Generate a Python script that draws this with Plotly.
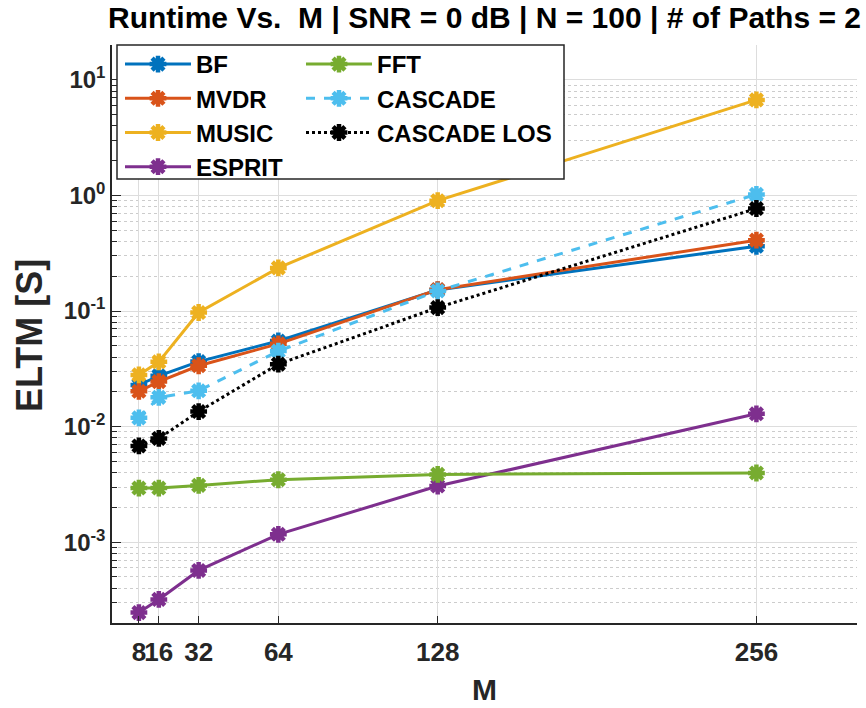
import plotly.graph_objects as go

# Array size M and measured elapsed time (seconds) for each estimator
M = [8, 16, 32, 64, 128, 256]
bf = [0.0229, 0.0275, 0.0365, 0.055, 0.152, 0.363]
mvdr = [0.0202, 0.0245, 0.0336, 0.052, 0.153, 0.41]
music = [0.028, 0.0363, 0.097, 0.236, 0.90, 6.7]
esprit = [2.46e-4, 3.2e-4, 5.7e-4, 1.17e-3, 3.06e-3, 1.29e-2]
fft = [2.94e-3, 2.94e-3, 3.1e-3, 3.47e-3, 3.86e-3, 3.97e-3]
cascade = [0.0119, 0.0179, 0.0204, 0.045, 0.149, 1.02]
cascade_los = [0.0068, 0.0079, 0.0135, 0.0347, 0.107, 0.77]

x_ticks = [8, 16, 32, 64, 128, 256]
x_ticktext = ["8", "16", "32", "64", "128", "256"]
y_ticks = [1e-3, 1e-2, 1e-1, 1e0, 1e1]
y_ticktext = ["10<sup>-3</sup>", "10<sup>-2</sup>", "10<sup>-1</sup>", "10<sup>0</sup>", "10<sup>1</sup>"]

FONT = "Liberation Sans, Arial, sans-serif"
INK = "#262626"

series = [
    ("BF", bf, "#0072BD", "solid", "legend"),
    ("MVDR", mvdr, "#D95319", "solid", "legend"),
    ("MUSIC", music, "#EDB120", "solid", "legend"),
    ("ESPRIT", esprit, "#7E2F8E", "solid", "legend"),
    ("FFT", fft, "#77AC30", "solid", "legend2"),
    ("CASCADE", cascade, "#4DBEEE", "dash", "legend2"),
    ("CASCADE LOS", cascade_los, "#000000", "dot", "legend2"),
]

fig = go.Figure()
for name, vals, color, dash, leg in series:
    fig.add_trace(go.Scatter(
        x=M, y=vals, name=name, mode="lines+markers",
        legend=leg, legendgroup=name,
        line=dict(color=color, width=3, dash=dash),
        marker=dict(symbol="asterisk-open", size=14, color=color,
                    line=dict(color=color, width=4.5)),
    ))

W, H = 866, 708
L, R, T, B = 112, 9, 45, 85
pw, ph = W - L - R, H - T - B


def px_x(p):
    return (p - L) / pw


def px_y(p):
    return 1 - (p - T) / ph


legend_common = dict(
    font=dict(family=FONT, size=24, color="#000000", weight="bold"),
    bgcolor="rgba(0,0,0,0)", borderwidth=0,
    itemwidth=66, tracegroupgap=0, traceorder="grouped",
    xanchor="left", yanchor="top", itemclick=False,
)

fig.update_layout(
    width=W, height=H,
    margin=dict(l=L, r=R, t=T, b=B, autoexpand=False),
    paper_bgcolor="white", plot_bgcolor="white",
    font=dict(family=FONT, color=INK),
    title=dict(
        text="Runtime Vs.  M | SNR = 0 dB | N = 100 | # of Paths = 2",
        font=dict(family=FONT, size=30, color="#000000", weight="bold"),
        xref="paper", x=0.5, xanchor="center",
        yref="container", y=1 - 17 / H, yanchor="middle",
    ),
    legend=dict(x=px_x(120), y=px_y(42), **legend_common),
    legend2=dict(x=px_x(301), y=px_y(42), **legend_common),
    showlegend=True,
)

fig.update_xaxes(
    range=[-2.8, 296.4],
    tickvals=x_ticks, ticktext=x_ticktext, tickangle=0,
    tickfont=dict(family=FONT, size=26, color=INK, weight="bold"),
    ticklabelstandoff=5,
    ticks="inside", ticklen=7, tickcolor=INK, tickwidth=1.2,
    showline=True, linecolor=INK, linewidth=1.5, mirror=False,
    showgrid=True, gridcolor="#dddddd", gridwidth=1,
    zeroline=False,
    title=dict(text="M", font=dict(family=FONT, size=30, color=INK, weight="bold"), standoff=13),
)

fig.update_yaxes(
    type="log", range=[-3.699, 1.301],
    tickvals=y_ticks, ticktext=y_ticktext,
    tickfont=dict(family=FONT, size=24, color=INK, weight="bold"),
    ticks="inside", ticklen=9, tickcolor=INK, tickwidth=1.2,
    showline=True, linecolor=INK, linewidth=1.5, mirror=False,
    showgrid=True, gridcolor="#dddddd", gridwidth=1,
    minor=dict(dtick="D1", ticks="inside", ticklen=5, tickcolor=INK,
               showgrid=True, gridcolor="#cccccc", griddash="dot", gridwidth=1),
    zeroline=False,
)

# Y-axis label
fig.add_annotation(
    text="ELTM [S]", textangle=-90, showarrow=False,
    xref="paper", yref="paper", x=px_x(29), y=px_y(336),
    xanchor="center", yanchor="middle",
    font=dict(family=FONT, size=36, color=INK, weight="bold"),
)

# White legend frame that spans both legend columns
fig.add_shape(
    type="rect", xref="paper", yref="paper", layer="above",
    x0=px_x(117), x1=px_x(564), y0=px_y(179), y1=px_y(45),
    fillcolor="white", line=dict(color="#262626", width=1.5),
)

fig.write_html("out.html")
